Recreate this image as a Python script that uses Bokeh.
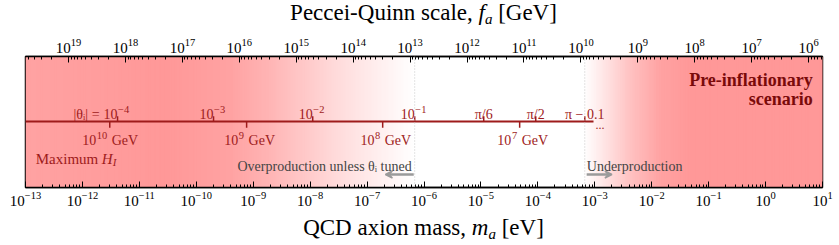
import numpy as np
from bokeh.plotting import figure
from bokeh.layouts import column
from bokeh.models import (Range1d, LogAxis, LogScale, FixedTicker, LogTickFormatter,
                          Label, Arrow, VeeHead, Span, Div)
from bokeh.core.properties import value
from bokeh.embed import file_html
from bokeh.resources import INLINE

# ---------------- data ----------------
mass_min, mass_max = 1e-13, 1e1          # eV
fa_conv = 5.7e6                           # f_a [GeV] = fa_conv / m_a [eV]
mass_ticks = [10.0 ** k for k in range(-13, 2)]
fa_ticks = [10.0 ** k for k in range(19, 5, -1)]

theta_labels = ["10^−4", "10^−3", "10^−2", "10^−1", "π/6", "π/2", "π − 0.1"]
theta_mass = [4.14e-12, 2.01e-10, 1.11e-8, 6.87e-7, 1.12e-5, 9.18e-5, 6.67e-4]
hi_exponents = ["10", "9", "8", "7"]      # H_I = 10^n GeV
hi_mass = [3.02e-12, 7.66e-10, 1.88e-7, 4.79e-5]
theta_line_end = 9.5e-4
over_edge = 6.87e-7     # |theta_i| = 0.1 boundary
under_edge = 6.67e-4    # theta_i = pi - 0.1 boundary
over_arrow = [6.6e-7, 2.1e-7]
under_arrow = [7.2e-4, 2.0e-3]

left_fade_logm = [-13.0, -10.52, -9.4, -8.82, -8.17, -7.53, -6.76, -6.163]
left_fade_alpha = [0.9, 1.0, 0.9, 0.75, 0.55, 0.35, 0.15, 0.0]
right_fade_logm = [-3.19, -2.77, -2.37, -1.84, -1.31, 1.0]
right_fade_alpha = [0.0, 0.3, 0.6, 0.9, 1.0, 1.0]

# ---------------- style ----------------
SERIF = "Liberation Serif"
DARKRED = "#9e1b1b"
MAROON = "#7a0a0a"
GRAY_TXT = "#444444"
RED_RGB = (255, 152, 152)

p = figure(width=839, height=184, x_axis_type="log",
           x_range=Range1d(mass_min, mass_max), y_range=Range1d(0, 1),
           output_backend="svg", toolbar_location=None,
           min_border_left=25, min_border_right=17,
           min_border_top=28, min_border_bottom=25, margin=(0, 0, 0, 0))
p.yaxis.visible = False
p.grid.visible = False
p.outline_line_color = "black"
p.outline_line_width = 1.5
p.background_fill_color = "white"
p.border_fill_color = "white"


def shade(logm, alpha):
    lo, hi = logm[0], logm[-1]
    n = max(2, int((hi - lo) / 0.03))
    edges = np.linspace(lo, hi, n + 1)
    mids = 0.5 * (edges[:-1] + edges[1:])
    a = np.interp(mids, logm, alpha)
    cols = []
    for ai in a:
        r = int(round(255 - ai * (255 - RED_RGB[0])))
        g = int(round(255 - ai * (255 - RED_RGB[1])))
        b = int(round(255 - ai * (255 - RED_RGB[2])))
        cols.append("#%02x%02x%02x" % (r, g, b))
    step = edges[1] - edges[0]
    p.quad(left=10 ** edges[:-1], right=10 ** (edges[1:] + 0.6 * step),
           bottom=0, top=1, fill_color=cols, line_color=None)


shade(left_fade_logm, left_fade_alpha)
shade(right_fade_logm, right_fade_alpha)

for loc in (over_edge, under_edge):
    p.add_layout(Span(location=loc, dimension="height", line_color="#c8c8c8",
                      line_dash="1 2", line_width=1))

# bottom axis
ax = p.xaxis[0]
ax.ticker = FixedTicker(ticks=mass_ticks,
                        minor_ticks=[k * 10.0 ** e for e in range(-13, 1) for k in range(2, 10)])
ax.formatter = LogTickFormatter()

# top axis (f_a)
p.extra_x_ranges = {"fa": Range1d(start=fa_conv / mass_min, end=fa_conv / mass_max)}
p.extra_x_scales = {"fa": LogScale()}
top = LogAxis(x_range_name="fa",
              ticker=FixedTicker(ticks=fa_ticks,
                                 minor_ticks=[k * 10.0 ** e for e in range(5, 20) for k in range(2, 10)
                                              if fa_conv / mass_max <= k * 10.0 ** e <= fa_conv / mass_min]),
              formatter=LogTickFormatter())
p.add_layout(top, "above")

for a in (ax, top):
    a.major_tick_in = 6
    a.major_tick_out = 0
    a.minor_tick_in = 3
    a.minor_tick_out = 0
    a.major_tick_line_color = "black"
    a.minor_tick_line_color = "black"
    a.axis_line_color = "black"
    a.axis_line_width = 1.5
    a.major_label_text_font = SERIF
    a.major_label_text_font_size = "15px"
    a.major_label_text_color = "black"
    a.major_label_standoff = 4

# theta line and ticks
LINE_Y = 0.504
p.line(x=[mass_min, theta_line_end], y=[LINE_Y, LINE_Y], line_color=DARKRED, line_width=2)
p.segment(x0=theta_mass, y0=LINE_Y, x1=theta_mass, y1=LINE_Y + 0.04,
          line_color=DARKRED, line_width=1.5)
p.segment(x0=hi_mass, y0=LINE_Y, x1=hi_mass, y1=LINE_Y - 0.047,
          line_color=DARKRED, line_width=1.5)

txt = dict(text_font=value(SERIF), text_color=DARKRED, text_baseline="alphabetic")
pow_x = [m for m, l in zip(theta_mass, theta_labels) if "^" in l]
pow_base = [l.split("^")[0] for l in theta_labels if "^" in l]
pow_exp = [l.split("^")[1] for l in theta_labels if "^" in l]
plain_x = [m for m, l in zip(theta_mass, theta_labels) if "^" not in l]
plain_t = [l for l in theta_labels if "^" not in l]
TH_Y = 0.56
p.text(x=pow_x, y=TH_Y, text=pow_base, text_align="right", x_offset=0,
       text_font_size=value("14px"), **txt)
p.text(x=pow_x, y=TH_Y, text=pow_exp, text_align="left", x_offset=0.5, y_offset=-5,
       text_font_size=value("10.5px"), **txt)
p.text(x=plain_x, y=TH_Y, text=plain_t, text_align="center",
       text_font_size=value("14px"), **txt)

HI_Y = 0.359
p.text(x=hi_mass, y=HI_Y, text=hi_exponents, text_align="right", x_offset=-2.5, y_offset=-5,
       text_font_size=value("10.5px"), **txt)
p.text(x=hi_mass, y=HI_Y, text=["10"] * len(hi_mass), text_align="right",
       x_offset=[-3 - 5.3 * len(e) for e in hi_exponents],
       text_font_size=value("14px"), **txt)
p.text(x=hi_mass, y=HI_Y, text=["GeV"] * len(hi_mass), text_align="left", x_offset=2,
       text_font_size=value("14px"), **txt)


def lab(x, y, text, size, color="black", align="left", style="normal", xo=0, font=SERIF):
    p.add_layout(Label(x=x, y=y, text=text, x_offset=xo, text_align=align,
                       text_baseline="alphabetic", text_font=font,
                       text_font_size=size, text_color=color, text_font_style=style))


lab(theta_mass[0], TH_Y, "|θᵢ| =", "14px", DARKRED, align="right", xo=-18)
lab(theta_line_end, 0.477, "...", "12px", DARKRED, xo=2)

# Maximum H_I
lab(10 ** -12.82, 0.221, "Maximum ", "15px", DARKRED)
lab(10 ** -12.82, 0.221, "H", "15px", DARKRED, style="italic", xo=66)
lab(10 ** -12.82, 0.221 - 3 / 131, "I", "11px", DARKRED, style="italic", xo=77)

# over / under production
lab(over_edge, 0.16, "Overproduction unless θᵢ tuned", "14px", GRAY_TXT, align="right", xo=-3)
lab(under_edge, 0.16, "Underproduction", "14px", GRAY_TXT, xo=2)
for xs in (over_arrow, under_arrow):
    p.add_layout(Arrow(x_start=xs[0], y_start=0.099, x_end=xs[1], y_end=0.099,
                       line_color="#9a9a9a", line_width=2.5,
                       end=VeeHead(size=7, fill_color="#9a9a9a", line_color="#9a9a9a",
                                   line_width=1.5)))

# Pre-inflationary
lab(10 ** 0.83, 0.817, "Pre-inflationary", "18px", MAROON, align="right", style="bold")
lab(10 ** 0.83, 0.672, "scenario", "18px", MAROON, align="right", style="bold")

# axis titles (HTML text so that the math symbols can be italic)
TITLE_CSS = ("width:839px;box-sizing:border-box;padding-left:8px;text-align:center;"
             "font-family:'Liberation Serif',serif;font-size:23px;color:black;white-space:nowrap;")
SUB_CSS = "font-style:italic;font-size:15px;position:relative;top:4px;"
top_div = Div(text=(f'<div style="{TITLE_CSS}line-height:26px;padding-top:0px;">'
                    f'Peccei-Quinn scale, <i>f</i><span style="{SUB_CSS}">a</span> [GeV]</div>'),
              width=839, height=28, margin=(0, 0, 0, 0))
bot_div = Div(text=(f'<div style="{TITLE_CSS}line-height:26px;padding-top:3px;">'
                    f'QCD axion mass, <i>m</i><span style="{SUB_CSS}">a</span> [eV]</div>'),
              width=839, height=33, margin=(0, 0, 0, 0))

layout = column(top_div, p, bot_div, spacing=0, margin=(0, 0, 0, 0))
open("out.html", "w").write(file_html(layout, INLINE))
